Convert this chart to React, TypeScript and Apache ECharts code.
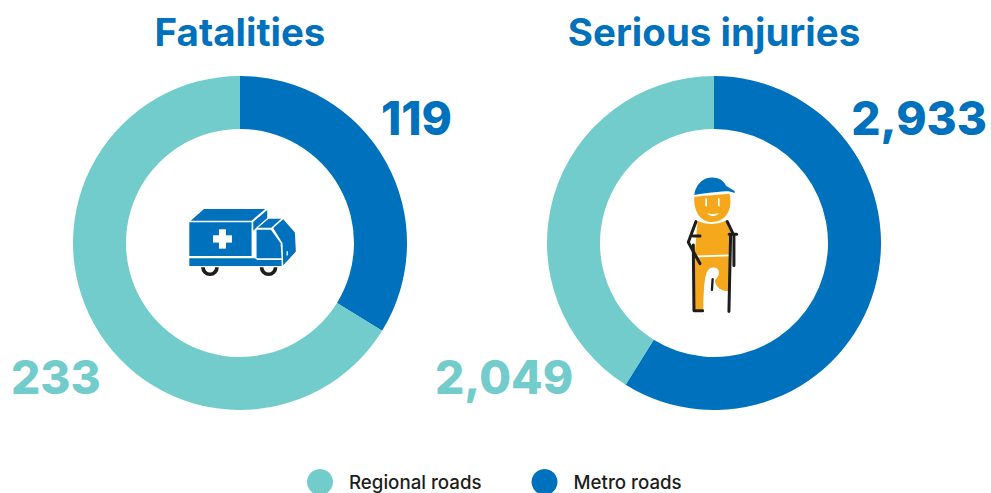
import React, { useEffect, useRef } from "react";
import * as echarts from "echarts";

const categories = ["Metro roads", "Regional roads"];
const legendOrder = ["Regional roads", "Metro roads"];
const titles = ["Fatalities", "Serious injuries"];
const fatalities = [119, 233];
const seriousInjuries = [2933, 2049];

const BLUE = "#0071BC";
const TEAL = "#72CCCC";
const INK = "#1D1D1B";
const ORANGE = "#F5A81C";
const FONT = "Inter, 'Noto Sans', sans-serif";

const centers = [[240, 243], [714, 243]];
const labelAnchors = [
  [{ x: 452, y: 118, align: "right" }, { x: 11, y: 377, align: "left" }],
  [{ x: 987, y: 118, align: "right" }, { x: 435, y: 377, align: "left" }],
];

const shapes: Record<string, string> = {
  cap: "M103 90 C105 70 118 48 140 40 C165 33 190 42 198 62 L224 78 L225 84 C212 80 205 78 195 79 C165 82 130 85 103 90 Z",
  head: "M103 95 C135 92 175 89 209 86 C218 125 205 170 155 171 C120 171 100 135 103 95 Z",
  torso: "M113 168 C140 180 175 180 198 167 L214 208 L212 269 L104 272 Z",
  legs: "M100 278 L212 274 L208 378 C190 380 166 370 165 345 C180 335 184 308 160 308 C136 308 132 340 130 436 L100 436 Z",
  mouth: "M142 145 C152 148 165 148 176 144 C172 156 148 156 142 145 Z",
};
Object.keys(shapes).forEach((k) => {
  echarts.graphic.registerShape("fig_" + k, echarts.graphic.extendPath(shapes[k], {}));
});

function poly(points: number[][], fill: string) {
  return { type: "polygon", shape: { points }, style: { fill } };
}
function line(points: number[][], w = 9) {
  return {
    type: "polyline",
    shape: { points },
    style: { stroke: INK, lineWidth: w, fill: "none", lineCap: "round", lineJoin: "round" },
  };
}
function fig(name: string, fill: string) {
  return { type: "fig_" + name, x: 0, y: 0, style: { fill } };
}

const ambulance = {
  type: "group",
  x: 170,
  y: 190,
  scaleX: 1 / 3,
  scaleY: 1 / 3,
  children: [
    { type: "arc", shape: { cx: 120, cy: 232, r: 21, startAngle: 0, endAngle: Math.PI }, style: { stroke: INK, lineWidth: 11, fill: "none" } },
    { type: "arc", shape: { cx: 296, cy: 232, r: 21, startAngle: 0, endAngle: Math.PI }, style: { stroke: INK, lineWidth: 11, fill: "none" } },
    poly([[58, 97], [245, 97], [245, 198], [58, 198]], BLUE),
    poly([[62, 92], [102, 57], [286, 57], [245, 92]], BLUE),
    poly([[250, 96], [292, 60], [292, 84], [262, 110], [250, 122]], BLUE),
    poly([[264, 113], [296, 86], [334, 86], [304, 113]], BLUE),
    poly([[260, 119], [303, 119], [332, 160], [335, 205], [260, 205]], BLUE),
    poly([[310, 114], [340, 88], [375, 128], [378, 185], [340, 226], [338, 160]], BLUE),
    poly([[58, 205], [255, 205], [262, 210], [335, 210], [335, 228], [58, 228]], BLUE),
    { type: "rect", shape: { x: 129, y: 136, width: 57, height: 22 }, style: { fill: "#fff" } },
    { type: "rect", shape: { x: 147, y: 118, width: 21, height: 58 }, style: { fill: "#fff" } },
    { type: "rect", shape: { x: 350, y: 184, width: 4, height: 13 }, style: { fill: "#fff" } },
  ],
};

const person = {
  type: "group",
  x: 660,
  y: 165,
  scaleX: 1 / 3,
  scaleY: 1 / 3,
  children: [
    fig("cap", BLUE),
    fig("head", ORANGE),
    { type: "rect", shape: { x: 136, y: 100, width: 5, height: 24 }, style: { fill: "#fff" } },
    { type: "rect", shape: { x: 174, y: 100, width: 5, height: 24 }, style: { fill: "#fff" } },
    fig("mouth", "#fff"),
    fig("torso", ORANGE),
    fig("legs", ORANGE),
    line([[108, 170], [85, 232], [120, 296]]),
    line([[100, 213], [120, 213]]),
    line([[100, 240], [102, 438], [128, 438]]),
    line([[202, 170], [222, 212], [222, 302]]),
    line([[208, 208], [230, 208]]),
    line([[212, 212], [207, 440]]),
    line([[158, 343], [156, 375]], 7),
  ],
};

function donut(index: number, values: number[]) {
  return {
    type: "pie",
    center: centers[index],
    radius: [114, 167],
    startAngle: 90,
    clockwise: true,
    silent: true,
    animation: false,
    data: categories.map((name, i) => ({
      name,
      value: values[i],
      itemStyle: { color: name === "Metro roads" ? BLUE : TEAL },
    })),
    label: {
      show: true,
      position: "outside",
      formatter: (p: any) => Number(p.value).toLocaleString("en-US"),
      fontFamily: FONT,
      fontSize: 46,
      fontWeight: 800,
      color: "inherit",
      overflow: "none",
    },
    labelLine: { show: false },
    labelLayout: (p: any) => {
      const a = labelAnchors[index][p.dataIndex];
      return { x: a.x, y: a.y, align: a.align, verticalAlign: "middle" };
    },
  };
}

export default function App() {
  const ref = useRef<HTMLDivElement>(null);
  useEffect(() => {
    document.body.style.margin = "0";
    const chart = echarts.init(ref.current!, undefined, { renderer: "svg" });
    chart.setOption({
      animation: false,
      backgroundColor: "#fff",
      title: titles.map((text, i) => ({
        text,
        left: centers[i][0],
        top: 12,
        padding: 0,
        textAlign: "center",
        textStyle: { color: BLUE, fontFamily: FONT, fontSize: 38.5, fontWeight: 700 },
      })),
      legend: {
        data: legendOrder,
        left: 307,
        top: 469,
        icon: "circle",
        itemWidth: 26,
        itemHeight: 26,
        itemGap: 50,
        padding: 0,
        selectedMode: false,
        textStyle: { color: INK, fontFamily: FONT, fontSize: 18.7, fontWeight: 500, padding: [0, 0, 0, 11] },
      },
      series: [donut(0, fatalities), donut(1, seriousInjuries)],
      graphic: [ambulance, person],
    });
    return () => chart.dispose();
  }, []);
  return <div ref={ref} style={{ position: "absolute", left: 0, top: 0, width: 991, height: 493 }} />;
}
